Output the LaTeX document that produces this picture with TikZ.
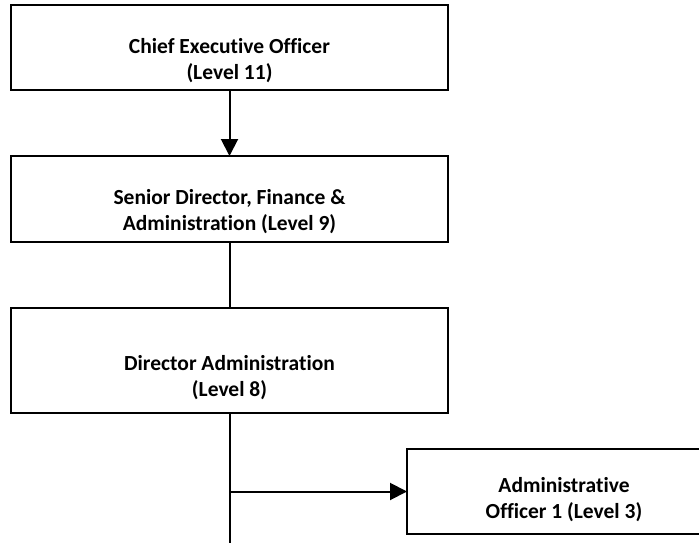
\documentclass[tikz,border=0pt]{standalone}
\usepackage{fontspec}
\setmainfont[Ligatures=NoCommon]{Carlito}
\usetikzlibrary{arrows.meta}
\begin{document}
\begin{tikzpicture}[x=1pt,y=-1pt,
  box/.style={draw=black,line width=2pt,fill=white,rectangle,inner sep=0pt,outer sep=0pt},
  lbl/.style={align=center,font=\fontsize{21.5}{25.5}\selectfont\bfseries,inner sep=0pt,anchor=base},
  conn/.style={line width=2pt,draw=black},
  arr/.style={conn,-{Triangle[length=17pt,width=17pt]}}]
\useasboundingbox (0,0) rectangle (699,543);
\clip (0,0) rectangle (699,543);
\node[box,minimum width=437pt,minimum height=85pt] (ceo) at (229.5,47.5) {};
\node[box,minimum width=437pt,minimum height=86pt] (sd) at (229.5,199) {};
\node[box,minimum width=437pt,minimum height=105pt] (da) at (229.5,360.5) {};
\node[box,minimum width=314pt,minimum height=85pt] (ao) at (564,491.5) {};
\node[lbl] (tceo) at (229.5,79.5) {Chief Executive Officer\\(Level 11)};
\node[lbl] (tsd) at (229.5,230) {Senior Director, Finance \&\\Administration (Level 9)};
\node[lbl] (tda) at (229.5,396) {Director Administration\\(Level 8)};
\node[lbl] (tao) at (564,518) {Administrative\\Officer 1 (Level 3)};
\coordinate (bot) at (229.5,546);
\coordinate (br) at (229.5,491.5);
\draw[arr] (ceo.south) -- (sd.north);
\draw[conn] (sd.south) -- (da.north);
\draw[conn] (da.south) -- (bot);
\draw[arr] (br) -- (ao.west);
\end{tikzpicture}
\end{document}
